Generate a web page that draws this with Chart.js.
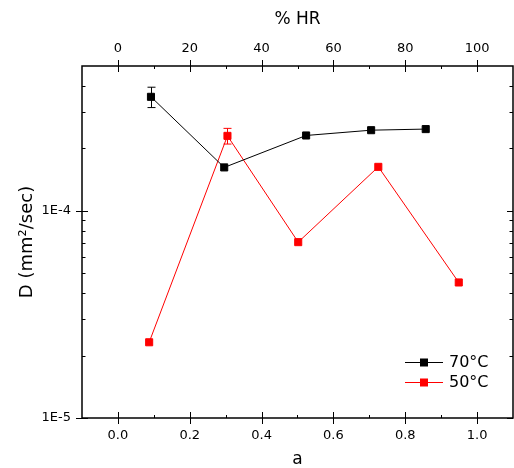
<!DOCTYPE html>
<html>
<head>
<meta charset="utf-8">
<script src="https://cdn.jsdelivr.net/npm/chart.js@4"></script>
<style>
  html, body { margin: 0; padding: 0; background: #fff; overflow: hidden; }
  #wrap { width: 514px; height: 468px; position: relative; }
</style>
</head>
<body>
<div id="wrap"><canvas id="grafico"></canvas></div>
<script>
// ---- datos ----
const a70 = [0.092, 0.296, 0.524, 0.705, 0.857];
const d70 = [3.55e-4, 1.62e-4, 2.31e-4, 2.45e-4, 2.48e-4];
const err70 = [0.4e-4, 0, 0, 0, 0];

const a50 = [0.087, 0.305, 0.502, 0.725, 0.949];
const d50 = [2.32e-5, 2.30e-4, 7.06e-5, 1.63e-4, 4.51e-5];
const err50 = [0, 0.2e-4, 0, 0, 0];

const series = ["70°C", "50°C"];

// ---- ticks ----
const aTicks = [0.0, 0.2, 0.4, 0.6, 0.8, 1.0];
const aMinor = [0.1, 0.3, 0.5, 0.7, 0.9];
const hrTicks = [0, 20, 40, 60, 80, 100];
const hrMinor = [10, 30, 50, 70, 90];
const dTicks = [1e-5, 1e-4];
const dMinor = [2e-5, 3e-5, 4e-5, 5e-5, 6e-5, 7e-5, 8e-5, 9e-5, 2e-4, 3e-4, 4e-4];

const FONT = "'DejaVu Sans', sans-serif";

// marco + ticks + barras de error + leyenda
const extras = {
    id: "extras",
    beforeDatasetsDraw(chart) {
        const ctx = chart.ctx;
        const x = chart.scales.x, y = chart.scales.y;
        ctx.save();
        ctx.lineWidth = 1;
        chart.data.datasets.forEach(ds => {
            ctx.strokeStyle = ds.borderColor;
            ds.data.forEach((p, i) => {
                const e = ds.errors[i];
                if (!e) return;
                const px = Math.round(x.getPixelForValue(p.x)) + 0.5;
                const y1 = y.getPixelForValue(p.y + e);
                const y2 = y.getPixelForValue(p.y - e);
                ctx.beginPath();
                ctx.moveTo(px, y1); ctx.lineTo(px, y2);
                ctx.moveTo(px - 4, y1); ctx.lineTo(px + 4, y1);
                ctx.moveTo(px - 4, y2); ctx.lineTo(px + 4, y2);
                ctx.stroke();
            });
        });
        ctx.restore();
    },
    afterDraw(chart) {
        const ctx = chart.ctx;
        const area = chart.chartArea;
        const x = chart.scales.x, x2 = chart.scales.x2, y = chart.scales.y;
        ctx.save();
        ctx.strokeStyle = "#000";
        ctx.lineWidth = 1.5;
        ctx.strokeRect(area.left, area.top, area.right - area.left, area.bottom - area.top);

        ctx.lineWidth = 1;
        ctx.beginPath();
        // abajo
        aTicks.forEach(v => {
            const px = Math.round(x.getPixelForValue(v)) + 0.5;
            ctx.moveTo(px, area.bottom - 6); ctx.lineTo(px, area.bottom + 6);
        });
        aMinor.forEach(v => {
            const px = Math.round(x.getPixelForValue(v)) + 0.5;
            ctx.moveTo(px, area.bottom - 3); ctx.lineTo(px, area.bottom);
        });
        // arriba
        hrTicks.forEach(v => {
            const px = Math.round(x2.getPixelForValue(v)) + 0.5;
            ctx.moveTo(px, area.top - 6); ctx.lineTo(px, area.top + 6);
        });
        hrMinor.forEach(v => {
            const px = Math.round(x2.getPixelForValue(v)) + 0.5;
            ctx.moveTo(px, area.top); ctx.lineTo(px, area.top + 3);
        });
        // izquierda y derecha
        dTicks.forEach(v => {
            const py = Math.round(y.getPixelForValue(v)) + 0.5;
            ctx.moveTo(area.left - 6, py); ctx.lineTo(area.left + 6, py);
            ctx.moveTo(area.right - 6, py); ctx.lineTo(area.right, py);
        });
        dMinor.forEach(v => {
            const py = Math.round(y.getPixelForValue(v)) + 0.5;
            ctx.moveTo(area.left, py); ctx.lineTo(area.left + 3.5, py);
            ctx.moveTo(area.right - 3.5, py); ctx.lineTo(area.right, py);
        });
        ctx.stroke();

        // leyenda
        ctx.font = "16px " + FONT;
        ctx.textBaseline = "middle";
        ctx.textAlign = "left";
        chart.data.datasets.forEach((ds, i) => {
            const ly = 362 + i * 20;
            ctx.strokeStyle = ds.borderColor;
            ctx.lineWidth = 1;
            ctx.beginPath();
            ctx.moveTo(405, ly + 0.5); ctx.lineTo(443, ly + 0.5);
            ctx.stroke();
            ctx.fillStyle = ds.backgroundColor;
            ctx.fillRect(420, ly - 3.5, 8, 8);
            ctx.fillStyle = "#000";
            ctx.fillText(ds.label, 449, ly + 1);
        });
        ctx.restore();
    }
};

const mkPoints = (xs, ys) => xs.map((v, i) => ({ x: v, y: ys[i] }));
const noPad = s => { s.paddingLeft = 0; s.paddingRight = 0; };

new Chart(document.getElementById("grafico"), {
    type: "line",
    data: {
        datasets: [
            {
                label: series[0],
                data: mkPoints(a70, d70),
                errors: err70,
                borderColor: "#000000",
                backgroundColor: "#000000",
                borderWidth: 1,
                pointStyle: "rect",
                pointRadius: 5,
                pointBorderWidth: 1,
                pointHoverRadius: 5
            },
            {
                label: series[1],
                data: mkPoints(a50, d50),
                errors: err50,
                borderColor: "#ff0000",
                backgroundColor: "#ff0000",
                borderWidth: 1,
                pointStyle: "rect",
                pointRadius: 5,
                pointBorderWidth: 1,
                pointHoverRadius: 5
            }
        ]
    },
    options: {
        responsive: true,
        maintainAspectRatio: false,
        animation: false,
        layout: { autoPadding: false, padding: { left: 0, right: 1, top: 0, bottom: 0 } },
        plugins: { legend: { display: false }, tooltip: { enabled: false } },
        scales: {
            x: {
                type: "linear",
                position: "bottom",
                min: -0.1,
                max: 1.1,
                afterBuildTicks: s => { s.ticks = aTicks.map(v => ({ value: v })); },
                afterFit: s => { s.height = 50; noPad(s); },
                grid: { display: false, drawTicks: false },
                border: { display: false },
                ticks: {
                    padding: 10,
                    color: "#000",
                    font: { family: FONT, size: 13 },
                    callback: v => Number(v).toFixed(1)
                },
                title: { display: true, text: "a", color: "#000", padding: { top: 0, bottom: -2 }, font: { family: FONT, size: 17 } }
            },
            x2: {
                type: "linear",
                position: "top",
                min: -10,
                max: 110,
                afterBuildTicks: s => { s.ticks = hrTicks.map(v => ({ value: v })); },
                afterFit: s => { s.height = 66; noPad(s); },
                grid: { display: false, drawTicks: false },
                border: { display: false },
                ticks: {
                    padding: 10,
                    color: "#000",
                    font: { family: FONT, size: 13 }
                },
                title: { display: true, text: "% HR", color: "#000", padding: { top: 9 }, font: { family: FONT, size: 17 } }
            },
            y: {
                type: "logarithmic",
                position: "left",
                min: 1e-5,
                max: 5e-4,
                afterBuildTicks: s => { s.ticks = dTicks.map(v => ({ value: v })); },
                afterFit: s => { s.width = 82; },
                grid: { display: false, drawTicks: false },
                border: { display: false },
                ticks: {
                    padding: 11,
                    color: "#000",
                    font: { family: FONT, size: 13 },
                    callback: v => "1E" + Math.round(Math.log10(v))
                },
                title: { display: true, text: "D (mm²/sec)", color: "#000", padding: { top: 17 }, font: { family: FONT, size: 18 } }
            }
        }
    },
    plugins: [extras]
});
</script>
</body>
</html>
